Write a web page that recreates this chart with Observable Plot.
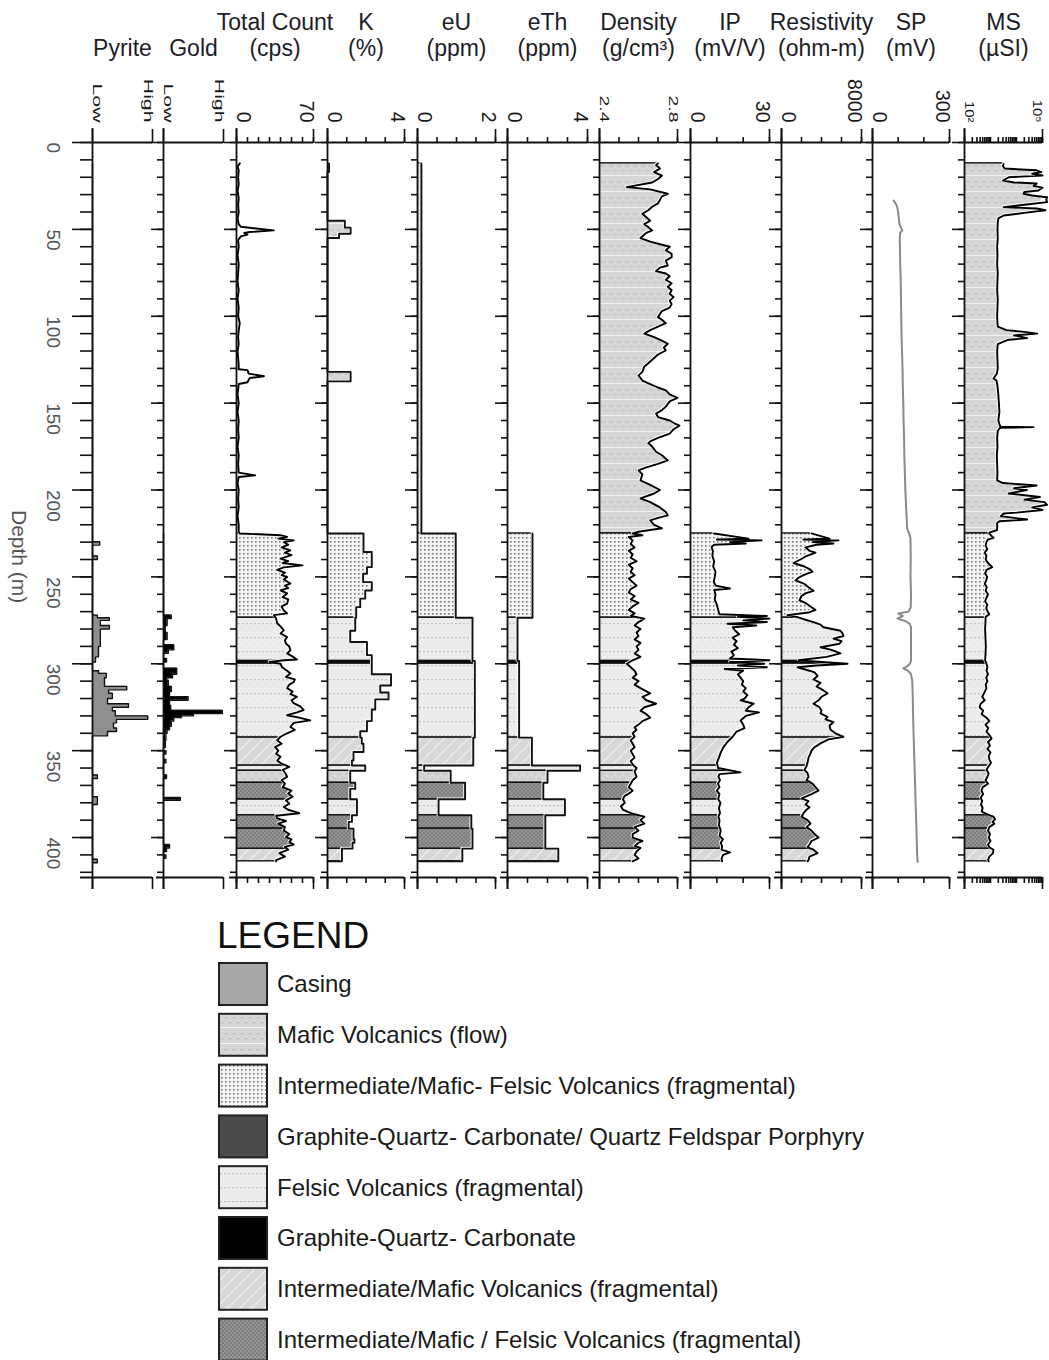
<!DOCTYPE html>
<html><head><meta charset="utf-8">
<script src="https://cdn.jsdelivr.net/npm/d3@7"></script>
<script src="https://cdn.jsdelivr.net/npm/@observablehq/plot@0.6"></script>
<style>
body{margin:0;background:#fff;font-family:"Liberation Sans",Arial,sans-serif;}
#chart{position:relative;width:1049px;height:1360px;overflow:hidden;background:#fff;}
</style></head><body>
<svg width="0" height="0" style="position:absolute"><defs>
<pattern id="p-casing" width="4" height="4" patternUnits="userSpaceOnUse"><rect width="4" height="4" fill="#a6a6a6"/></pattern>
<pattern id="p-mafic" width="8" height="16" patternUnits="userSpaceOnUse"><rect width="8" height="16" fill="#d6d6d6"/><rect x="0" y="5" width="4" height="1.5" fill="#c3c3c3"/><rect x="4" y="10" width="4" height="1.5" fill="#c6c6c6"/><rect y="15" width="8" height="1" fill="#f2f2f2"/></pattern>
<pattern id="p-imf" width="4" height="4" patternUnits="userSpaceOnUse"><rect width="4" height="4" fill="#f3f3f3"/><rect x="1" y="1" width="1.6" height="1.6" fill="#7a7a7a"/></pattern>
<pattern id="p-gqcqfp" width="4" height="4" patternUnits="userSpaceOnUse"><rect width="4" height="4" fill="#4b4b4b"/></pattern>
<pattern id="p-fel" width="8" height="14" patternUnits="userSpaceOnUse"><rect width="8" height="14" fill="#ececec"/><rect x="0" y="0" width="1" height="1" fill="#dcdcdc"/><rect x="4" y="3" width="1" height="1" fill="#dcdcdc"/><rect x="0" y="7" width="2" height="1.2" fill="#c2c2c2"/><rect x="4" y="7" width="2" height="1.2" fill="#c2c2c2"/><rect x="2" y="11" width="1" height="1" fill="#dcdcdc"/></pattern>
<pattern id="p-gqc" width="4" height="4" patternUnits="userSpaceOnUse"><rect width="4" height="4" fill="#000"/></pattern>
<pattern id="p-imfr" width="12" height="12" patternUnits="userSpaceOnUse"><rect width="12" height="12" fill="#d8d8d8"/><path d="M-3,3 L3,-3 M0,12 L12,0 M9,15 L15,9" stroke="#ededed" stroke-width="1.4"/></pattern>
<pattern id="p-imff" width="4" height="4" patternUnits="userSpaceOnUse"><rect width="4" height="4" fill="#949494"/><rect width="2" height="2" fill="#7e7e7e"/><rect x="2" y="2" width="2" height="2" fill="#7e7e7e"/></pattern>
</defs></svg>
<div id="chart"></div>
<script>
// ---------------- DATA ----------------
const lithologyNames = [
  "Casing",
  "Mafic Volcanics (flow)",
  "Intermediate/Mafic- Felsic Volcanics (fragmental)",
  "Graphite-Quartz- Carbonate/ Quartz Feldspar Porphyry",
  "Felsic Volcanics (fragmental)",
  "Graphite-Quartz- Carbonate",
  "Intermediate/Mafic Volcanics (fragmental)",
  "Intermediate/Mafic / Felsic Volcanics (fragmental)"
];
// [top depth, bottom depth, lithology]
const lithology = [
  [12, 225, "Mafic Volcanics (flow)"],
  [225, 273.5, "Intermediate/Mafic- Felsic Volcanics (fragmental)"],
  [273.5, 298.4, "Felsic Volcanics (fragmental)"],
  [298.4, 299.8, "Graphite-Quartz- Carbonate"],
  [299.8, 342.5, "Felsic Volcanics (fragmental)"],
  [342.5, 358.5, "Intermediate/Mafic Volcanics (fragmental)"],
  [358.5, 361.6, "Felsic Volcanics (fragmental)"],
  [361.6, 368.5, "Mafic Volcanics (flow)"],
  [368.5, 378, "Intermediate/Mafic / Felsic Volcanics (fragmental)"],
  [378, 387.2, "Felsic Volcanics (fragmental)"],
  [387.2, 394.9, "Intermediate/Mafic / Felsic Volcanics (fragmental)"],
  [394.9, 406.4, "Intermediate/Mafic / Felsic Volcanics (fragmental)"],
  [406.4, 413.7, "Intermediate/Mafic Volcanics (fragmental)"]
];
const depthTicksMinor = d3.range(0, 421, 10);
const depthTicksMajor = [0, 50, 100, 150, 200, 250, 300, 350, 400];

// step logs: [start depth, value]
const pyrite = [[12,0],[229.8,0.12],[231.7,0],[238,0.08],[240,0],[272,0.08],[273.5,0.28],[275,0.13],[278,0.28],[280,0.13],[290,0.1],[296,0.05],[299,0],[304,0.1],[305.5,0.23],[308,0.2],[313,0.57],[315,0.27],[317,0.33],[320,0.25],[323,0.6],[325,0.33],[327,0.38],[330,0.92],[332,0.4],[334,0.35],[337,0.4],[339,0.25],[341.5,0],[364,0.08],[366,0],[376.5,0.08],[381,0],[412.5,0.08],[414.5,0]];
const gold = [[225,0],[272,0.13],[274,0.06],[278,0.03],[282,0.06],[286,0],[289,0.17],[292,0.08],[294,0],[297,0.05],[299,0],[302.6,0.22],[306,0.15],[308,0.05],[309.5,0.08],[313,0.13],[316,0.1],[319,0.41],[321,0.1],[324,0.12],[326.8,0.98],[328.7,0.5],[330,0.3],[331,0.17],[333,0.13],[336,0.1],[338,0.06],[340,0.04],[344,0.03],[348,0],[350,0.04],[352,0],[355,0.04],[357,0],[364,0.05],[366,0],[377,0.28],[378.5,0],[404,0.1],[406,0.05],[408,0],[410,0.04],[412,0]];
const potassium = [[12,0.08],[17,0],[45,0.9],[49,1.2],[52.5,0.6],[55,0],[132,1.2],[137.5,0],[225,1.87],[235.7,2.3],[244.4,2.05],[248.2,1.85],[253,2.3],[257.8,1.96],[262.5,1.7],[267.4,1.49],[273.5,1.44],[281,1.18],[287.5,2.05],[295,2.3],[298.4,2.3],[306,3.3],[312.5,2.74],[316.5,3.17],[320.5,2.48],[326.3,2.3],[333,2.05],[338.8,1.7],[342.5,1.78],[346,1.87],[350.8,1.35],[355.6,1.27],[358.5,1.96],[361.6,1.18],[368.5,1.44],[372,1.18],[378,1.53],[387.2,1.27],[391,1.1],[394.9,1.35],[401,1.4],[403,1.3],[406.4,0.75],[413.7,0]];
const uranium = [[12,0.1],[225,0.98],[273.5,1.41],[298.4,1.47],[342.5,1.43],[358.5,0.17],[361.6,0.85],[368.5,1.22],[378,0.54],[387.2,1.38],[394.9,1.41],[406.4,1.15],[413.7,0]];
const thorium = [[225,1.25],[273.5,0.5],[298.4,0.58],[342.5,1.22],[358.5,3.63],[361.6,2.0],[368.5,1.79],[378,2.87],[387.2,1.89],[394.9,1.89],[406.4,2.54],[413.7,0]];

// continuous logs: [depth, value]
const totalCount = [[12,3],[14,1],[16,2],[20,1.5],[24,2],[28,1],[32,2],[36,1.5],[40,2],[44,1],[47,2],[48.5,4],[50.6,34],[51.5,12],[52,7],[53,10],[54,4],[56,1.5],[60,2],[65,1],[70,2],[75,1.5],[80,1],[85,2],[90,1],[95,2],[100,1.5],[104,3],[108,2],[112,1.5],[116,2],[120,1],[124,1.5],[128,2],[130.5,2],[131,10],[133,11],[134.5,25],[135.5,12],[138,10],[139,2],[145,1],[150,2],[155,1],[160,2],[165,1.5],[170,2],[175,1],[180,2],[185,1.5],[190,2],[191.6,17],[192.5,2],[196,1],[200,2],[205,1.5],[210,2],[215,1],[220,2],[224,2],
 [225,3],[226,40],[227,46],[228,38],[229,52],[230,43],[231.5,47],[233,41],[234.7,49],[236,44],[237.5,50],[239.5,40],[241,47],[242,42],[243.4,60],[244.5,43],[246,37],[247.5,44],[249,41],[250,46],[251.5,43],[253.8,49],[255,44],[256.5,47],[257.8,40],[259.5,46],[261.6,42],[263,47],[265.4,46],[267,41],[269.3,43],[271,46],[272,34],[274,36],[276.7,37],[278.5,40],[280.8,43],[282.5,40],[284.6,46],[286.5,44],[288.4,45],[290,48],[292.3,49],[294,46],[296.2,52],[297.5,55],[298,43],[299,30],[300,40],[302,41.5],[304,46],[305.6,49],[307.5,45],[309,53],[310.5,52],[312,48],[314,46],[316,51],[317.5,49],[319,55],[321,50],[322.7,52],[324.5,58],[326.6,61],[328,55],[329.6,46],[331,57],[332.6,67],[334,52],[336.4,49],[338,53],[340,46],[342,40],[344,37],[346,41],[348,35],[350,38],[351.8,36],[353.5,40],[355.7,37],[357.5,41],[359.4,48],[361,42],[363,44.5],[365,46],[367,41],[369,44],[371,42],[373,50],[374.7,47],[376.5,51],[378.6,45],[380.5,48],[382.4,43],[384,47],[386,57],[387.5,36],[389,37],[390.5,45],[392,38],[394,44],[396,43],[398,48],[399.7,45],[401,50],[402.6,48],[404,52],[405.4,44],[407,47],[409,39],[411,44],[413,36],[413.7,36]];
const density = [[12,2.70],[13,2.69],[15,2.71],[17,2.68],[19,2.72],[21,2.70],[23,2.67],[25.7,2.54],[27,2.66],[29.5,2.75],[31,2.72],[33,2.71],[35,2.70],[37,2.67],[39,2.65],[41,2.62],[43,2.64],[45,2.66],[47,2.63],[48.7,2.65],[50.6,2.67],[52,2.64],[55,2.61],[57,2.66],[60,2.76],[62,2.74],[64,2.77],[66,2.77],[68,2.74],[70.8,2.75],[72,2.71],[74,2.69],[75.4,2.74],[77,2.76],[79,2.74],[81,2.77],[83,2.75],[85,2.77],[87,2.76],[89,2.78],[91,2.76],[93,2.77],[95,2.76],[97,2.72],[100.5,2.70],[102,2.72],[104,2.74],[106,2.70],[108,2.66],[110,2.63],[112,2.68],[114,2.72],[115.8,2.75],[118,2.73],[119.7,2.74],[122,2.70],[124,2.68],[127,2.65],[129,2.63],[132,2.62],[134,2.60],[137,2.62],[139,2.66],[141,2.70],[142.7,2.74],[145,2.76],[147,2.80],[149,2.76],[152,2.74],[154,2.72],[156,2.69],[158,2.70],[160,2.76],[162,2.79],[163,2.81],[165,2.78],[167.5,2.76],[170,2.70],[172,2.66],[173,2.65],[175,2.67],[178,2.69],[180,2.72],[183,2.75],[185,2.70],[187,2.64],[188.7,2.60],[191,2.62],[194.5,2.61],[197,2.66],[200,2.71],[202,2.68],[204.8,2.61],[207,2.66],[210,2.71],[212.7,2.74],[214.6,2.75],[216,2.70],[217.5,2.66],[220,2.68],[222,2.72],[224,2.60],
 [225,2.57],[226,2.62],[227,2.55],[229,2.57],[231,2.56],[233,2.58],[235,2.55],[237,2.57],[239,2.56],[241,2.59],[243,2.55],[245,2.57],[247,2.56],[249,2.58],[251,2.55],[253,2.57],[255,2.59],[257,2.56],[259,2.55],[261,2.58],[263,2.56],[265,2.60],[267,2.57],[269,2.55],[271,2.58],[272.5,2.56],[274,2.63],[276,2.60],[278,2.58],[280,2.61],[282,2.59],[284,2.60],[286,2.58],[288,2.61],[290,2.59],[292,2.60],[294,2.58],[296,2.61],[298,2.57],[300,2.54],[302,2.56],[304,2.58],[306,2.59],[308,2.57],[310,2.60],[312,2.58],[314,2.61],[317,2.66],[319,2.62],[321,2.64],[323,2.69],[325,2.63],[327,2.61],[329,2.64],[331,2.66],[333,2.62],[335,2.60],[336.6,2.58],[338,2.59],[340,2.57],[342,2.58],[344,2.56],[346,2.57],[348,2.58],[350,2.56],[352,2.57],[354,2.58],[356,2.56],[358,2.57],[360,2.59],[362,2.58],[365,2.59],[367,2.57],[369,2.56],[371,2.55],[373,2.57],[374,2.56],[376,2.53],[378,2.52],[380,2.53],[382,2.51],[384,2.52],[386,2.56],[388,2.63],[390,2.61],[392,2.63],[394,2.58],[396,2.60],[398,2.57],[400,2.57],[402,2.62],[403,2.60],[405,2.58],[406,2.61],[408,2.59],[410,2.58],[412,2.60],[413.7,2.57]];
const chargeability = [[225,9],[228,22],[228.5,10],[229,27],[230,15],[230.8,21],[231.5,9],[232.8,8],[235,8.5],[238,8.3],[241,9],[244,8.6],[247,9.5],[250,9.2],[253,8.8],[255,9.6],[256.7,15],[257.5,9],[260,9.5],[263,9.2],[266,10],[269,10.5],[271.5,11],[272.5,29],[273,18],[274,30],[275,20],[276,29],[277,14],[278,25],[279,16],[281,17],[283,18.5],[285,16],[287,17.5],[289,16.5],[291,18],[293,15.5],[295,16.5],[297,15],[298,30],[299,15],[300,28],[301,18],[302,29],[303,13],[304,20],[306,18],[308,19],[310,20],[312,19.5],[314,21],[316,20],[318,21.6],[320,20.5],[321,19],[323,24],[325,22],[327,21],[328,26],[330,21],[332.6,19],[335,20],[337,20.5],[339,17.5],[342,16],[345,14],[348,12.5],[351,11.5],[354,10.8],[357,10],[360,10.5],[362.5,19],[363.5,11],[365,10.6],[367,11.2],[369,10.4],[371,11],[373,10],[375,11],[378,10.5],[380,11.4],[383,10.8],[386,11.2],[388,10.6],[390,11],[393,10.8],[396,11.5],[399,11],[401,12.3],[403,11.5],[405,12],[407,11.8],[408.5,15],[410,12.4],[412,11.8],[413.7,12]];
const resistivity = [[225,3000],[228,4800],[228.5,2200],[229,5700],[230,3100],[230.8,5200],[231.5,3500],[233,2400],[235,2800],[236,3400],[238,2500],[240,1900],[242,1200],[244,2300],[245.5,2800],[247,3100],[249,2200],[250.5,1700],[252,1400],[254,2300],[256,2700],[258,3200],[259.5,2400],[261,2000],[263.5,1800],[265,2400],[267,2900],[269,3400],[270.5,2700],[272,600],[273,1500],[274.5,2300],[276,3200],[277.5,3900],[279,4200],[281,5900],[282.5,6100],[284,6200],[285.5,5200],[287,6000],[288.5,5800],[290.5,3900],[292,5000],[294,5900],[296,4500],[298,1700],[299,4000],[300,6600],[301,3500],[302,1600],[304,2800],[305,3300],[307,3600],[309,3200],[311,3900],[313,3500],[315,4100],[317,4600],[319,4000],[321,3700],[323,3200],[325,3800],[327,4000],[328.6,3900],[330.5,4600],[332,4400],[333.6,5200],[335.5,4800],[338,4900],[340,5400],[342,6200],[343.5,4700],[345.8,3900],[348,3300],[350,3000],[351.6,2900],[354,2700],[357,2600],[359,2500],[361,2300],[363,2600],[365,2700],[367,2500],[369,3100],[371,3400],[373,3700],[375,3000],[377.5,2000],[379,2700],[381,2400],[382.6,2800],[384,2500],[386,2200],[388,2000],[390,2600],[392,2900],[394,2500],[396,3000],[398,3300],[400,3700],[402,3000],[404,2800],[405.6,2600],[407,3200],[409,3600],[411,2800],[413,2700],[413.7,2600]];
const selfPotential = [[33.4,82],[35,90],[37,96],[40,100],[43,102],[46,104],[48,108],[50.6,116],[52,108],[55,106],[60,107],[70,108],[80,110],[90,111],[100,112],[110,113],[120,115],[130,117],[140,118],[150,120],[160,121],[170,123],[180,124],[190,126],[200,128],[210,131],[222,135],[226,145],[228,148],[240,149],[250,148],[260,150],[267.5,149],[270,140],[271,100],[272.5,118],[274,97],[275.5,130],[277,145],[279,150],[290,150],[298,150],[300,146],[301.5,135],[302.6,120],[304,138],[306,150],[310,155],[320,157],[330,158],[340,160],[350,162],[360,164],[370,166],[380,168],[390,170],[400,172],[410,174],[414,176]];
const magSusceptibility = [[12.3,3200],[13.5,3000],[15,3500],[16,60000],[17,90000],[18,40000],[19,100000],[20,5000],[21.9,3000],[23,8000],[23.6,60000],[25,45000],[26,100000],[27.6,70000],[28.5,20000],[29.5,18600],[30.5,40000],[31.5,150000],[33,140000],[34.3,150000],[35.5,30000],[37.2,3200],[38,60000],[39,130000],[40.5,20000],[42,3200],[43.7,2000],[46,1900],[50,1850],[55,1900],[60,1800],[65,1850],[70,1800],[75,1900],[80,1850],[85,1800],[90,1900],[95,1850],[100,1800],[104,1850],[106,1900],[108,4100],[109,20000],[110,63000],[111,8000],[112.6,25700],[113.5,5000],[114.6,3200],[116,1900],[120,1800],[125,1850],[130,1900],[133,1750],[135.8,1300],[137,1700],[140,1850],[145,2000],[150,2100],[155,2200],[160,2000],[162,2200],[163.5,2400],[163.8,45000],[164.2,2300],[166,1900],[170,1800],[175,1850],[180,1750],[185,1800],[190,1850],[194.5,1800],[196,3000],[197.4,60000],[199,8000],[200,25000],[202,5000],[204,80000],[205.5,20000],[207,120000],[208.5,150000],[210,40000],[211.5,100000],[213,10000],[213.5,3200],[215,2500],[217,25700],[218,2200],[219,1800],[223,1800],[224.5,900],
 [225,900],[226.5,1100],[227.5,1300],[228.5,800],[230,700],[232,650],[234,750],[236,600],[238,700],[240,650],[242,800],[244.4,1170],[246,700],[248,620],[250,750],[252,680],[254,600],[256,720],[258,650],[260,800],[262,700],[264,620],[266,750],[268,680],[270,780],[271.5,900],[273,650],[276,640],[280,620],[285,640],[290,660],[295,640],[298,620],[300,700],[302,760],[304,700],[306,800],[308,680],[310,760],[312,650],[314,700],[317,560],[319,480],[321,600],[323,420],[325,380],[327,520],[329,460],[331,700],[333,900],[335,640],[337,820],[339,700],[341,900],[343,1100],[345,800],[347,950],[349,760],[351,1000],[353,850],[355,900],[357,1050],[359.6,800],[361,700],[363,850],[365,760],[367,640],[369,800],[371,500],[373,450],[375,520],[377,420],[379,480],[381,430],[383,500],[385,460],[386.5,700],[388,1300],[389.5,1500],[391,1200],[392,1400],[394,900],[396,800],[398,950],[400,850],[402,1000],[404,800],[405.6,900],[407,1300],[409,1250],[411,900],[413,800],[413.7,850]];

// tick labels: [value, label]
const pyriteTickLabels = [[0,"Low"],[1,"High"]];
const goldTickLabels = [[0,"Low"],[1,"High"]];
const tcTickLabels = [[0,"0"],[70,"70"]];
const kTickLabels = [[0,"0"],[4,"4"]];
const euTickLabels = [[0,"0"],[2,"2"]];
const ethTickLabels = [[0,"0"],[4,"4"]];
const densityTickLabels = [[2.4,"2.4"],[2.8,"2.8"]];
const ipTickLabels = [[0,"0"],[30,"30"]];
const resTickLabels = [[0,"0"],[8000,"8000"]];
const spTickLabels = [[0,"0"],[300,"300"]];
const msTickLabels = [[100,"10²"],[100000,"10⁵"]];

// ---------------- STYLE ----------------
const fillOf = {
  "Casing": "url(#p-casing)",
  "Mafic Volcanics (flow)": "url(#p-mafic)",
  "Intermediate/Mafic- Felsic Volcanics (fragmental)": "url(#p-imf)",
  "Graphite-Quartz- Carbonate/ Quartz Feldspar Porphyry": "url(#p-gqcqfp)",
  "Felsic Volcanics (fragmental)": "url(#p-fel)",
  "Graphite-Quartz- Carbonate": "url(#p-gqc)",
  "Intermediate/Mafic Volcanics (fragmental)": "url(#p-imfr)",
  "Intermediate/Mafic / Felsic Volcanics (fragmental)": "url(#p-imff)"
};
const H = 900, TOP = 142, BOT = 877, DMAX = 423;
const FONT = "Liberation Sans, Arial, sans-serif";
const chart = document.getElementById("chart");
const COVER = {fill: "white", stroke: "white", strokeWidth: 2.6, clip: true};

function litRows(from) {
  return lithology.filter(r => r[0] >= from).map(([top, bottom, name]) => ({top, bottom, name}));
}
function litMarks(from, dom) {
  const rows = litRows(from);
  const names = [...new Set(rows.map(r => r.name))];
  return names.map(n => Plot.rectX(rows.filter(r => r.name === n), {
    y1: "top", y2: "bottom", x1: dom[0], x2: dom[1], fill: fillOf[n], stroke: "#111", strokeWidth: 1.4, clip: true
  }));
}
function continuousMarks(data, from, dom, sw = 1.9) {
  const pts = data.map(([d, v]) => ({d, v}));
  return [
    ...litMarks(from, dom),
    Plot.areaX(pts, {y: "d", x1: "v", x2: dom[1], ...COVER}),
    Plot.lineX(pts, {y: "d", x: "v", stroke: "#000", strokeWidth: sw, strokeLinejoin: "round"})
  ];
}
function stepMarks(steps, from, dom) {
  const iv = steps.slice(0, -1).map((s, i) => ({top: s[0], bottom: steps[i + 1][0], v: s[1]}));
  const pts = steps.map(([d, v]) => ({d, v}));
  return [
    ...litMarks(from, dom),
    Plot.rectX(iv, {y1: "top", y2: "bottom", x1: "v", x2: dom[1], ...COVER}),
    Plot.lineX(pts, {y: "d", x: "v", curve: "step-before", stroke: "#111", strokeWidth: 1.9})
  ];
}
function indicatorMarks(steps, fill) {
  const pts = steps.map(([d, v]) => ({d, v}));
  return [
    Plot.areaX(pts, {y: "d", x1: 0, x2: "v", curve: "step-before", fill}),
    Plot.lineX(pts, {y: "d", x: "v", curve: "step-before", stroke: "#111", strokeWidth: 1.4})
  ];
}

const tracks = [
  {left: 92, width: 60, domain: [0, 1], ml: 92, first: true, minor: [], title: "Pyrite", labels: pyriteTickLabels, fs: 12.5, stretch: 1.7,
   marks: () => indicatorMarks(pyrite, "#8f8f8f")},
  {left: 163, width: 60, domain: [0, 1], minor: [], title: "Gold", labels: goldTickLabels, fs: 12.5, stretch: 1.7,
   marks: () => indicatorMarks(gold, "#000")},
  {left: 236, width: 77, domain: [0, 70], minor: d3.range(0, 71, 10), title: "Total Count\n(cps)", labels: tcTickLabels,
   marks: () => continuousMarks(totalCount, 225, [0, 70])},
  {left: 327, width: 77, domain: [0, 4], minor: d3.range(0, 5, 1), title: "K\n(%)", labels: kTickLabels,
   marks: () => stepMarks(potassium, 12, [0, 4])},
  {left: 417, width: 78, domain: [0, 2], minor: d3.range(0, 2.01, 0.5), title: "eU\n(ppm)", labels: euTickLabels,
   marks: () => stepMarks(uranium, 12, [0, 2])},
  {left: 507, width: 80, domain: [0, 4], minor: d3.range(0, 5, 1), title: "eTh\n(ppm)", labels: ethTickLabels,
   marks: () => stepMarks(thorium, 225, [0, 4])},
  {left: 599, width: 78, domain: [2.4, 2.8], minor: [2.4, 2.5, 2.6, 2.7, 2.8], title: "Density\n(g/cm³)", labels: densityTickLabels, fs: 12.5, stretch: 1.55,
   marks: () => continuousMarks(density, 12, [2.4, 2.8])},
  {left: 690, width: 79, domain: [0, 30], minor: d3.range(0, 31, 10), title: "IP\n(mV/V)", labels: ipTickLabels,
   marks: () => continuousMarks(chargeability, 225, [0, 30])},
  {left: 781, width: 80, domain: [0, 8000], minor: d3.range(0, 8001, 2000), title: "Resistivity\n(ohm-m)", labels: resTickLabels,
   marks: () => continuousMarks(resistivity, 225, [0, 8000])},
  {left: 872, width: 77, domain: [0, 300], minor: d3.range(0, 301, 100), title: "SP\n(mV)", labels: spTickLabels,
   marks: () => [Plot.lineX(selfPotential.map(([d, v]) => ({d, v})), {y: "d", x: "v", stroke: "#8a8a8a", strokeWidth: 2})]},
  {left: 964, width: 78, domain: [100, 100000], type: "log", title: "MS\n(µSI)", labels: msTickLabels, fs: 13, stretch: 1.15,
   minor: d3.range(2, 6).flatMap(e => d3.range(1, 10).map(m => m * 10 ** e)).filter(v => v <= 100000),
   marks: () => continuousMarks(magSusceptibility, 12, [100, 100000])}
];

function makeTrack(cfg) {
  const ml = cfg.ml ?? 14, mr = 4;
  const minorLen = cfg.first ? 12 : 6, majorLen = cfg.first ? 20 : 12;
  const dom = cfg.domain;
  const noText = () => "";
  const ax = {tickFormat: noText, label: null, stroke: "#111", strokeWidth: 1.6};
  const fs = cfg.fs ?? 19.5;
  const st = cfg.stretch ?? 1;
  const marks = [
    ...cfg.marks(),
    Plot.ruleX([dom[0]], {stroke: "#111", strokeWidth: 1.8, insetTop: -14, insetBottom: -12}),
    Plot.ruleY([0], {stroke: "#111", strokeWidth: 1.8}),
    Plot.ruleY([DMAX], {stroke: "#111", strokeWidth: 1.8, insetLeft: cfg.first ? -12 : -7}),
    Plot.axisY(depthTicksMinor, {anchor: "left", tickSize: minorLen, ...ax}),
    Plot.axisY(depthTicksMajor, {anchor: "left", tickSize: majorLen, ...ax}),
    ...(cfg.minor.length ? [Plot.axisX(cfg.minor, {anchor: "top", tickSize: 6, ...ax}),
                            Plot.axisX(cfg.minor, {anchor: "bottom", tickSize: 6, ...ax})] : []),
    Plot.axisX(dom, {anchor: "top", tickSize: 14, ...ax}),
    Plot.axisX(dom, {anchor: "bottom", tickSize: 12, ...ax}),
    Plot.text([cfg.title], {text: d => d, frameAnchor: "top", dy: 55 - TOP, lineAnchor: "bottom", lineHeight: 1.1, fontSize: 23, fill: "#1d1d28"}),
    Plot.text([cfg.labels[0]], {x: d => d[0], text: d => d[1], frameAnchor: "top", dy: -20, rotate: 90, textAnchor: "end", lineAnchor: "bottom", fontSize: fs, fill: "#1a1a1a"}),
    Plot.text([cfg.labels[1]], {x: d => d[0], text: d => d[1], frameAnchor: "top", dy: -20, rotate: 90, textAnchor: "end", lineAnchor: "top", fontSize: fs, fill: "#1a1a1a"})
  ];
  if (cfg.first) {
    marks.push(Plot.text(depthTicksMajor, {y: d => d, text: d => String(d), frameAnchor: "left", dx: -39, rotate: 90, fontSize: 19, fill: "#555"}));
    marks.push(Plot.text(["Depth (m)"], {text: d => d, frameAnchor: "left", dx: -74, rotate: 90, fontSize: 21, fill: "#555"}));
  }
  const svg = Plot.plot({
    width: ml + cfg.width + mr, height: H,
    marginLeft: ml, marginRight: mr, marginTop: TOP, marginBottom: H - BOT,
    x: {type: cfg.type || "linear", domain: dom, axis: null},
    y: {domain: [0, DMAX], range: [TOP, BOT], axis: null},
    style: {background: "transparent", overflow: "visible", fontFamily: FONT, color: "#111"},
    marks
  });
  svg.style.position = "absolute";
  svg.style.left = (cfg.left - ml) + "px";
  svg.style.top = "0px";
  if (st !== 1) {
    const wanted = new Set(cfg.labels.map(d => d[1]));
    svg.querySelectorAll("text").forEach(t => {
      if (wanted.has(t.textContent)) {
        const tr = t.getAttribute("transform") || "";
        if (tr.includes("rotate")) t.setAttribute("transform", tr + ` scale(${st},1)`);
      }
    });
  }
  chart.appendChild(svg);
}
tracks.forEach(makeTrack);

// ---------------- LEGEND ----------------
const lg = d3.select(chart).append("svg")
  .attr("width", 1049).attr("height", 460)
  .style("position", "absolute").style("left", "0px").style("top", "900px")
  .attr("font-family", FONT);
lg.append("text").attr("x", 217).attr("y", 48).attr("font-size", 37).attr("fill", "#111").text("LEGEND");
lithologyNames.forEach((n, i) => {
  const y = 63 + i * 50.8;
  lg.append("rect").attr("x", 219).attr("y", y).attr("width", 48).attr("height", 42)
    .attr("fill", fillOf[n]).attr("stroke", "#222").attr("stroke-width", 2);
  lg.append("text").attr("x", 277).attr("y", y + 21).attr("dy", "0.35em")
    .attr("font-size", 24).attr("fill", "#1a1a1a").text(n);
});
</script>
</body></html>
